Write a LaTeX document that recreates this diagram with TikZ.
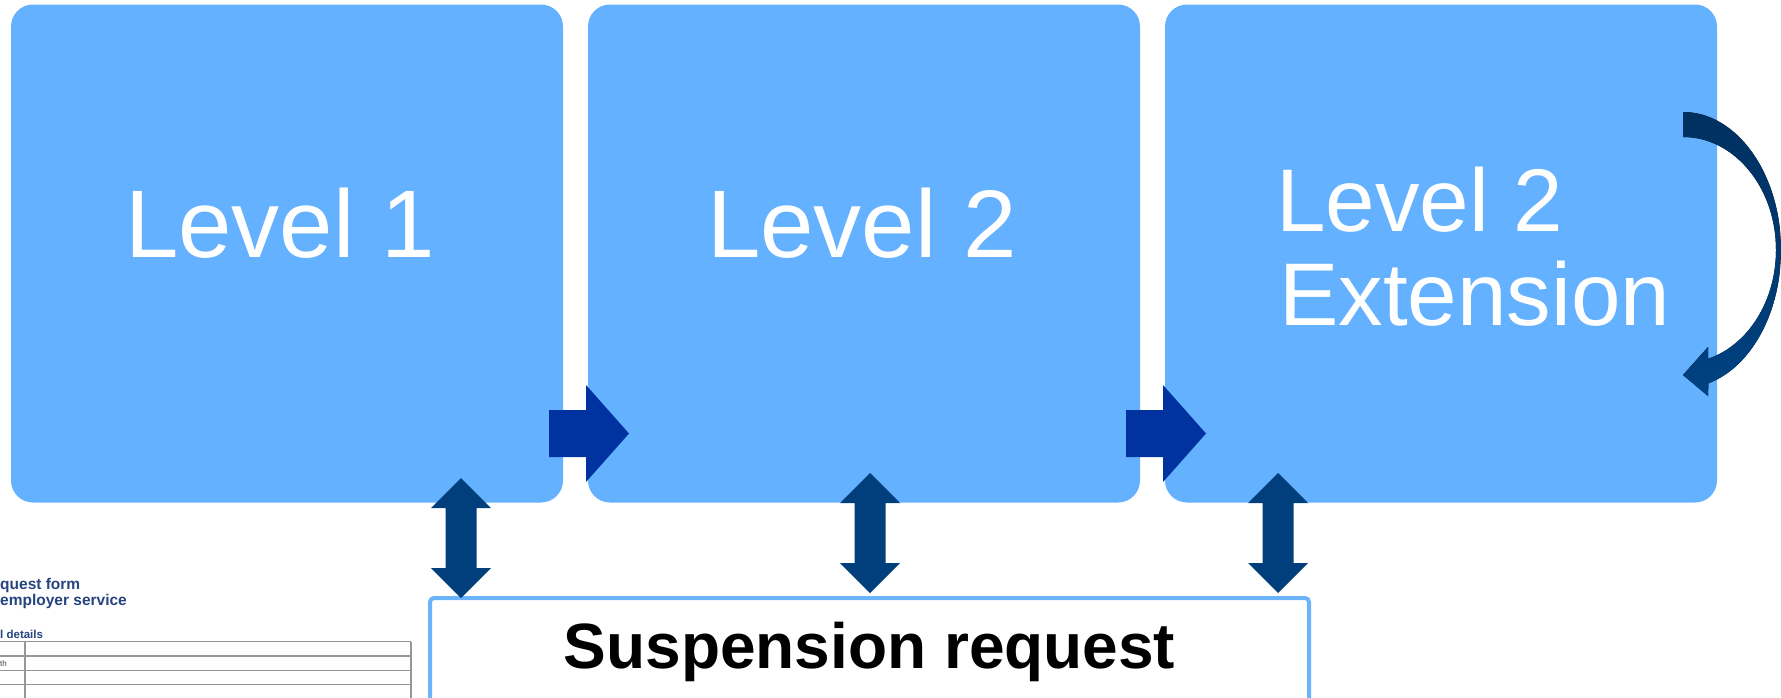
\documentclass[tikz,border=0pt]{standalone}
\usepackage{fontspec}
\setmainfont{Liberation Sans}
\definecolor{boxblue}{RGB}{100,177,255}
\definecolor{edgeblue}{RGB}{108,180,250}
\definecolor{flowblue}{RGB}{0,51,160}
\definecolor{linkblue}{RGB}{0,62,124}
\definecolor{loopdark}{RGB}{0,48,96}
\definecolor{loopmid}{RGB}{0,66,130}
\definecolor{formblue}{RGB}{38,68,125}
\definecolor{formgrey}{RGB}{150,150,150}
\tikzset{
  levelbox/.style={fill=boxblue, rounded corners=22pt, minimum width=552pt,
    minimum height=498pt, inner sep=0pt},
  leveltext/.style={text=white, inner sep=0pt, anchor=base,
    font=\fontsize{96pt}{96pt}\selectfont},
  flowarrow/.style={fill=flowblue},
  linkarrow/.style={fill=linkblue},
  formline/.style={draw=formgrey, line width=1.3pt},
  formtitle/.style={text=formblue, inner sep=0pt, anchor=base west,
    font=\fontsize{15.5pt}{16pt}\selectfont\bfseries},
}
\begin{document}
\begin{tikzpicture}[x=1pt,y=-1pt]
\useasboundingbox (0,0) rectangle (1781,697);
\clip (0,0) rectangle (1781,697);

% form page peeking in at the lower left
\node[formtitle] (formhead1) at (0,589) {quest form};
\node[formtitle] (formhead2) at (0,605) {employer service};
\node[formtitle, font=\fontsize{11.5pt}{12pt}\selectfont\bfseries] (formsec) at (0,638) {l details};
\node[text=black!75, inner sep=0pt, anchor=base west,
  font=\fontsize{8pt}{9pt}\selectfont] (formrow) at (0,666) {th};
\foreach \yy in {641.5,656,670.5,684.5}
  \draw[formline] (0,\yy) -- (411,\yy);
\draw[formline] (411,641.5) -- (411,700);
\draw[formline] (25,641.5) -- (25,700);

% the three levels
\node[levelbox] (lv1) at (287,253.5) {};
\node[levelbox] (lv2) at (864,253.5) {};
\node[levelbox] (lv3) at (1441,253.5) {};

\node[leveltext] (t1) at (280,257) {Level 1};
\node[leveltext] (t2) at (862,257) {Level 2};
\node[leveltext, anchor=base west,
  font=\fontsize{89pt}{94pt}\selectfont] (t3a) at (1276,231) {Level 2};
\node[leveltext, anchor=base west,
  font=\fontsize{89pt}{94pt}\selectfont] (t3b) at (1279,325) {Extension};

% suspension request bar
\node[draw=edgeblue, line width=4pt, fill=white, rounded corners=4pt,
  minimum width=879pt, minimum height=130pt, inner sep=0pt] (susp) at (869.5,663) {};
\node[inner sep=0pt, anchor=base,
  font=\fontsize{64pt}{64pt}\selectfont\bfseries] (susptext) at (869.5,668) {Suspension request};

% forward arrows between levels
\fill[flowarrow] (549,410) -- (586,410) -- (586,385) -- (629,433.5)
  -- (586,482) -- (586,457) -- (549,457) -- cycle;
\fill[flowarrow] (1126,410) -- (1163,410) -- (1163,385) -- (1206,433.5)
  -- (1163,482) -- (1163,457) -- (1126,457) -- cycle;

% two-way links to the suspension request
\foreach \cx/\ty/\by in {461/478/598, 870/473/593, 1278/473/593}{
  \fill[linkarrow] (\cx,\ty) -- (\cx+30,\ty+30) -- (\cx+15.5,\ty+30)
    -- (\cx+15.5,\by-30) -- (\cx+30,\by-30) -- (\cx,\by)
    -- (\cx-30,\by-30) -- (\cx-15.5,\by-30) -- (\cx-15.5,\ty+30)
    -- (\cx-30,\ty+30) -- cycle;
}

% loop-back arrow on the extension level
\fill[top color=loopdark, bottom color=loopmid]
  (1683,137) .. controls (1734.4,137) and (1776,187.6) .. (1776,250)
  .. controls (1776,300.7) and (1748.2,345.2) .. (1708,358.8)
  -- (1708,347) -- (1683,375) -- (1708,396) -- (1708.4,383.3)
  .. controls (1751.3,367.1) and (1781,312.5) .. (1781,250)
  .. controls (1781,174) and (1737,112) .. (1683,112) -- cycle;
\end{tikzpicture}
\end{document}
